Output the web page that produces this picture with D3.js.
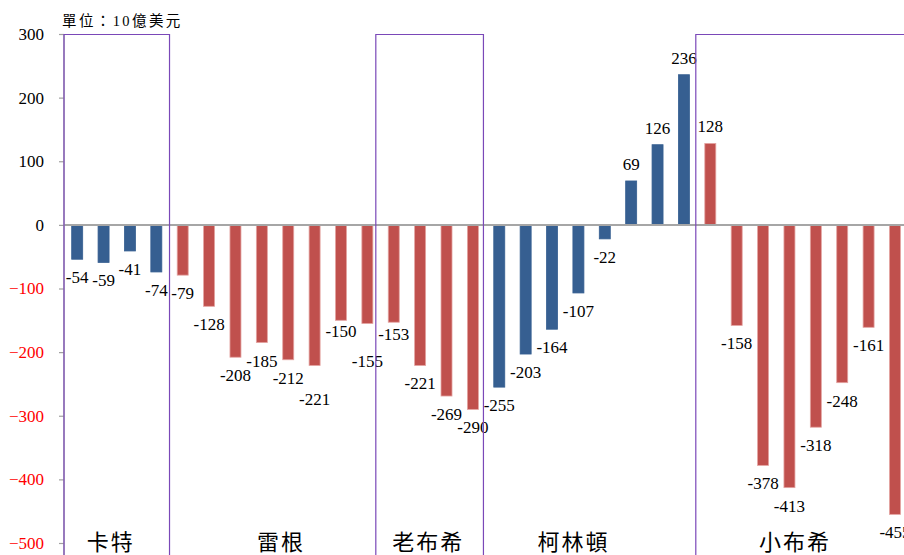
<!DOCTYPE html>
<html>
<head>
<meta charset="utf-8">
<script src="https://cdn.jsdelivr.net/npm/d3@7"></script>
<style>
  body { margin: 0; background: #fff; }
  svg { display: block; }
</style>
</head>
<body>
<svg id="chart" width="904" height="555"></svg>
<script>
// US federal budget balance by fiscal year (billions of USD), grouped by presidency
const years = [1977, 1978, 1979, 1980,
  1981, 1982, 1983, 1984, 1985, 1986, 1987, 1988,
  1989, 1990, 1991, 1992,
  1993, 1994, 1995, 1996, 1997, 1998, 1999, 2000,
  2001, 2002, 2003, 2004, 2005, 2006, 2007, 2008];
const balances = [-54, -59, -41, -74,
  -79, -128, -208, -185, -212, -221, -150, -155,
  -153, -221, -269, -290,
  -255, -203, -164, -107, -22, 69, 126, 236,
  128, -158, -378, -413, -318, -248, -161, -455];

const presidents = ["卡特", "雷根", "老布希", "柯林頓", "小布希"];
const termStart = [1977, 1981, 1989, 1993, 2001];
const termEnd = [1980, 1988, 1992, 2000, 2008];
const party = ["D", "R", "R", "D", "R"];

const yTicks = [300, 200, 100, 0, -100, -200, -300, -400, -500];
const unitLabel = "單位：10億美元";

// presentation settings
const W = 904, H = 555;
const partyColor = { D: "#365F91", R: "#C0504D" };
const partyEdge = { D: "#365F91", R: "#E4A3A1" };
const serif = "'Liberation Serif', 'Times New Roman', serif";
const cjk = "'Liberation Serif', 'Noto Sans CJK TC', sans-serif";
// name label centres and outlined terms, in band units
const nameAt = [1.23, 7.69, 13.27, 18.78, 27.17];
const outlined = [[0, 4], [11.82, 15.9], [23.95, 33]];
// hand-placed value labels (extra vertical shift, px)
const labelShift = { 1986: 16, 1987: -7, 1988: 20, 1989: -6 };

const svg = d3.select("#chart");

const x = d3.scaleBand()
  .domain(years)
  .range([64, 64 + years.length * 26.38])
  .paddingInner(0.583)
  .paddingOuter(0.2915);
const y = d3.scaleLinear().domain([-500, 300]).range([543, 34]);
const step = x.step();
const x0 = x.range()[0];

const termOf = yr => termStart.findIndex((s, i) => yr >= s && yr <= termEnd[i]);

// y axis
const yAxis = svg.append("g")
  .attr("transform", `translate(${x0},0)`)
  .call(d3.axisLeft(y).tickValues(yTicks).tickSize(5).tickPadding(15).tickFormat(d3.format("d")));
yAxis.select(".domain").remove();
yAxis.selectAll(".tick line").attr("stroke", "#A0A0A0").attr("stroke-width", 1.2);
yAxis.selectAll(".tick text")
  .attr("font-family", serif)
  .attr("font-size", 17)
  .attr("fill", d => d < 0 ? "#FF0000" : "#000");

svg.append("line")
  .attr("x1", x0).attr("x2", x0)
  .attr("y1", y(300)).attr("y2", H)
  .attr("stroke", "#A0A0A0").attr("stroke-width", 1.2);

// bars
svg.append("g").selectAll("rect")
  .data(years.map((yr, i) => ({ yr, v: balances[i], p: party[termOf(yr)] })))
  .join("rect")
  .attr("x", d => x(d.yr))
  .attr("width", x.bandwidth())
  .attr("y", d => Math.min(y(d.v), y(0)))
  .attr("height", d => Math.abs(y(d.v) - y(0)))
  .attr("fill", d => partyColor[d.p])
  .attr("stroke", d => partyEdge[d.p])
  .attr("stroke-width", 0.8);

// zero line
svg.append("line")
  .attr("x1", x0).attr("x2", W)
  .attr("y1", y(0)).attr("y2", y(0))
  .attr("stroke", "#A6A6A6").attr("stroke-width", 2);

// value labels
svg.append("g").selectAll("text")
  .data(years.map((yr, i) => ({ yr, v: balances[i] })))
  .join("text")
  .attr("x", d => x(d.yr) + x.bandwidth() / 2)
  .attr("y", d => d.v < 0 ? y(d.v) + 24 + (labelShift[d.yr] || 0) : y(d.v) - 11)
  .attr("text-anchor", "middle")
  .attr("font-family", serif)
  .attr("font-size", 17)
  .attr("fill", "#000")
  .text(d => d.v);

// president names
svg.append("g").selectAll("text")
  .data(presidents)
  .join("text")
  .attr("x", (d, i) => x0 + step * (nameAt[i] + 0.5) + 1)
  .attr("y", 550)
  .attr("text-anchor", "middle")
  .attr("font-family", cjk)
  .attr("font-size", 22)
  .attr("letter-spacing", 2)
  .attr("fill", "#000")
  .text(d => d);

// outlined terms
svg.append("g").selectAll("path")
  .data(outlined)
  .join("path")
  .attr("d", ([a, b]) => {
    const l = x0 + step * a, r = x0 + step * b, t = y(300) + 0.5;
    return `M${l},${H + 5}V${t}H${r}V${H + 5}`;
  })
  .attr("fill", "none")
  .attr("stroke", "#7A48B8")
  .attr("stroke-width", 1.2);

// unit caption
svg.append("text")
  .attr("x", 62)
  .attr("y", 26)
  .attr("font-family", cjk)
  .attr("font-size", 14.5)
  .attr("letter-spacing", 2.4)
  .attr("fill", "#000")
  .text(unitLabel);
</script>
</body>
</html>
